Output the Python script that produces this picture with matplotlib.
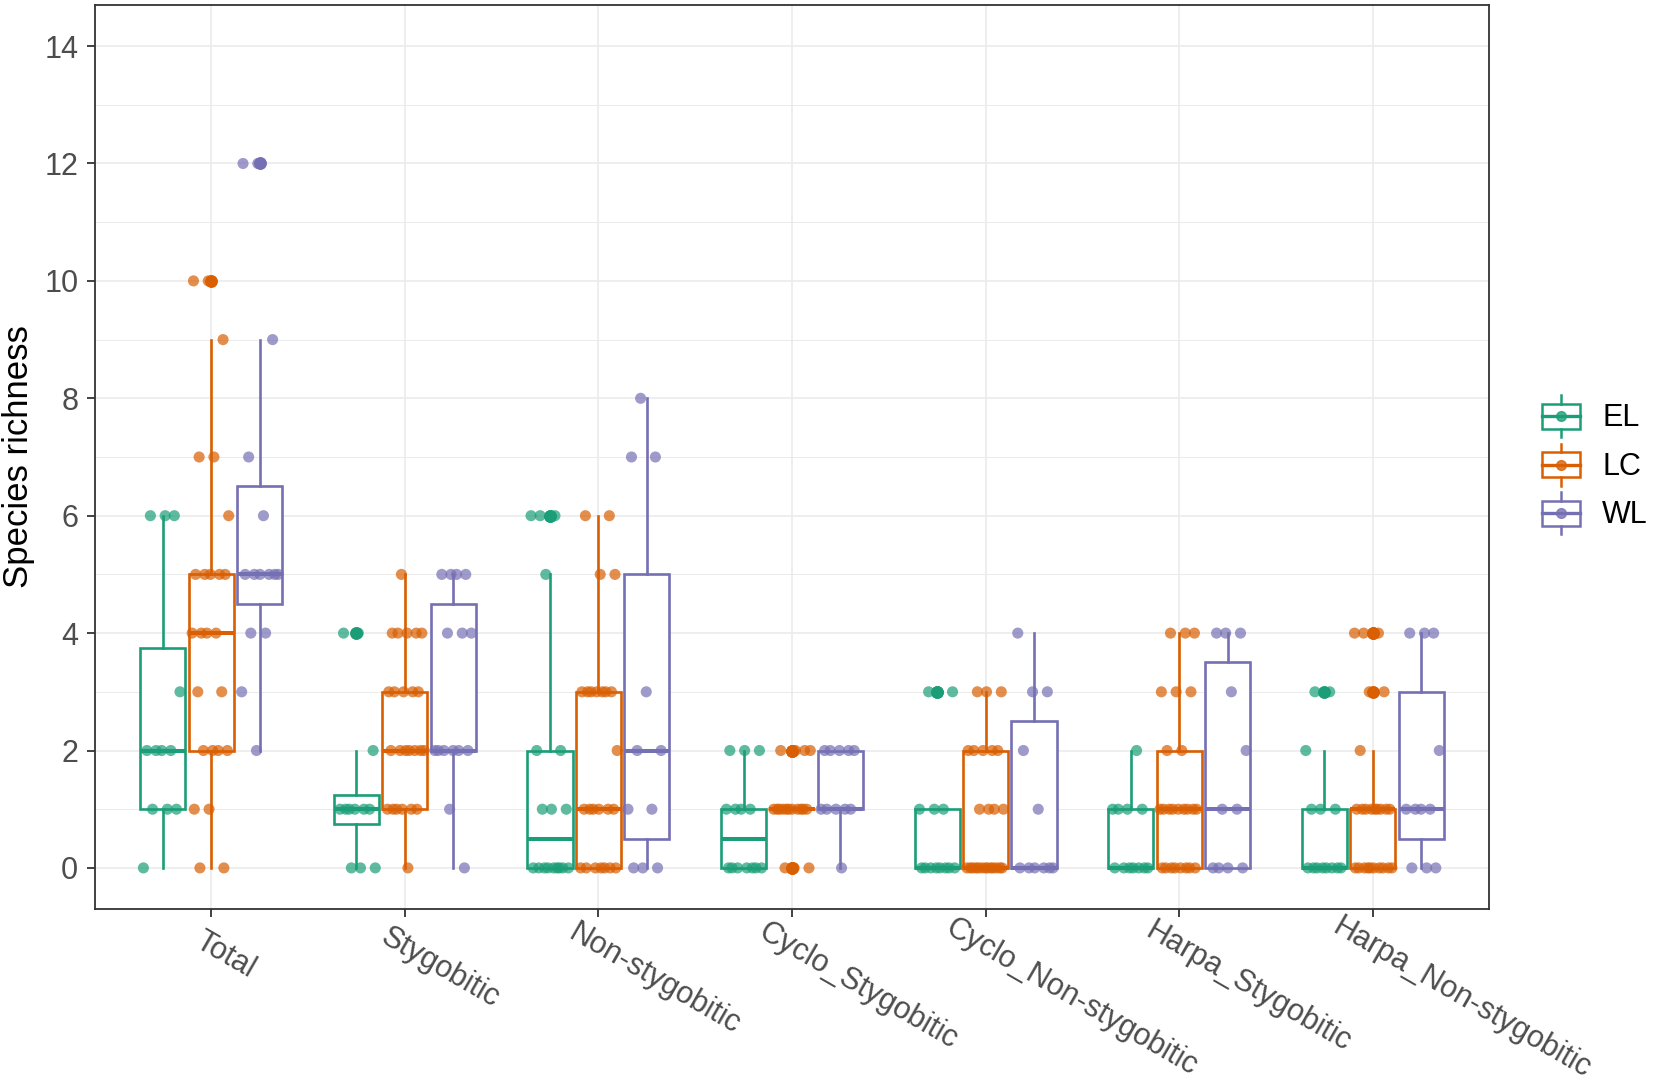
import numpy as np
import matplotlib.pyplot as plt
from matplotlib.patches import Rectangle
from matplotlib.transforms import ScaledTranslation

# categories on the x axis and the three habitats
categories = ["Total", "Stygobitic", "Non-stygobitic", "Cyclo_Stygobitic",
              "Cyclo_Non-stygobitic", "Harpa_Stygobitic", "Harpa_Non-stygobitic"]
habitats = ["EL", "LC", "WL"]
colors = ["#1B9E77", "#D95F02", "#7570B3"]

# species richness per site
el_values = [
    [0, 1, 1, 1, 2, 2, 2, 2, 3, 6, 6, 6],
    [0, 0, 0, 1, 1, 1, 1, 1, 1, 2, 4, 4],
    [0, 0, 0, 0, 0, 0, 0, 0, 0, 1, 1, 1, 2, 2, 5, 6, 6, 6],
    [0, 0, 0, 0, 0, 0, 0, 1, 1, 1, 1, 2, 2, 2],
    [0, 0, 0, 0, 0, 0, 0, 0, 1, 1, 1, 3, 3, 3],
    [0, 0, 0, 0, 0, 0, 0, 1, 1, 1, 1, 2],
    [0, 0, 0, 0, 0, 0, 0, 0, 1, 1, 1, 2, 3, 3],
]
lc_values = [
    [0, 0, 1, 1, 2, 2, 2, 2, 3, 3, 4, 4, 4, 4, 5, 5, 5, 5, 5, 6, 7, 7, 9, 10, 10],
    [0, 1, 1, 1, 1, 1, 1, 2, 2, 2, 2, 2, 2, 2, 3, 3, 3, 3, 3, 4, 4, 4, 4, 4, 5],
    [0, 0, 0, 0, 0, 0, 0, 1, 1, 1, 1, 1, 1, 2, 3, 3, 3, 3, 3, 3, 3, 5, 5, 6, 6],
    [0, 0, 0, 1, 1, 1, 1, 1, 1, 1, 1, 1, 1, 1, 2, 2, 2, 2],
    [0, 0, 0, 0, 0, 0, 0, 0, 0, 0, 0, 0, 0, 1, 1, 1, 1, 2, 2, 2, 2, 2, 3, 3, 3],
    [0, 0, 0, 0, 0, 0, 0, 0, 1, 1, 1, 1, 1, 1, 1, 1, 1, 2, 2, 3, 3, 3, 4, 4, 4],
    [0, 0, 0, 0, 0, 0, 0, 0, 0, 0, 1, 1, 1, 1, 1, 1, 1, 1, 1, 2, 3, 3, 4, 4, 4],
]
wl_values = [
    [2, 3, 4, 4, 5, 5, 5, 5, 5, 5, 6, 7, 9, 12, 12],
    [0, 1, 2, 2, 2, 2, 2, 2, 4, 4, 4, 5, 5, 5, 5],
    [0, 0, 0, 1, 1, 2, 2, 3, 7, 7, 8],
    [0, 1, 1, 1, 1, 1, 2, 2, 2, 2, 2],
    [0, 0, 0, 0, 0, 0, 1, 2, 3, 3, 4],
    [0, 0, 0, 0, 1, 1, 2, 3, 4, 4, 4],
    [0, 0, 0, 1, 1, 1, 1, 2, 4, 4, 4],
]
series = [el_values, lc_values, wl_values]

plt.rcParams['font.family'] = ['Liberation Sans', 'DejaVu Sans']

W, H = 1654, 1087
fig = plt.figure(figsize=(W / 100, H / 100), dpi=100)
ax = fig.add_axes([95 / W, 1 - 909 / H, (1489 - 95) / W, (909 - 5) / H])

x = np.arange(1, len(categories) + 1)
dodge = 0.25
box_w = 0.233
jw = 0.1

# boxplots first (outliers drawn at the box centre)
for h, (vals, col) in enumerate(zip(series, colors)):
    pos = x + (h - 1) * dodge
    ax.boxplot(vals, positions=pos, widths=box_w, patch_artist=True,
               showcaps=False, whis=1.5, manage_ticks=False, zorder=2,
               boxprops=dict(facecolor='white', edgecolor=col, linewidth=1.9),
               medianprops=dict(color=col, linewidth=2.9, solid_capstyle='butt'),
               whiskerprops=dict(color=col, linewidth=1.9),
               flierprops=dict(marker='o', markerfacecolor=col, markeredgecolor=col,
                               markersize=8, linestyle='none'))

# jittered points on top
for h, (vals, col) in enumerate(zip(series, colors)):
    pos = x + (h - 1) * dodge
    for i, v in enumerate(vals):
        k = np.arange(len(v))
        off = ((k * 0.618034 + i * 0.37 + h * 0.21) % 1.0 - 0.5) * 2 * jw
        ax.scatter(pos[i] + off, v, s=64, color=col, alpha=0.7,
                   edgecolors='none', zorder=3)

ax.set_xlim(0.4, 7.6)
ax.set_ylim(-0.7, 14.7)
ax.set_xticks(x)
ax.set_xticklabels([])
ax.set_yticks(np.arange(0, 15, 2))
ax.set_yticks(np.arange(1, 15, 2), minor=True)

ax.set_axisbelow(True)
ax.grid(which='major', color='#EBEBEB', linewidth=1.2)
ax.grid(which='minor', axis='y', color='#EBEBEB', linewidth=0.7)
ax.tick_params(which='major', length=6, width=1.3, color='#333333',
               labelcolor='#4D4D4D', labelsize=22, pad=6)
ax.tick_params(which='minor', length=0)
for s in ax.spines.values():
    s.set_color('#333333')
    s.set_linewidth(1.3)

# rotated category labels, nudged back along the text like ggplot does
fig.canvas.draw()
renderer = fig.canvas.get_renderer()
ang = np.radians(30)
lab_size = 22
for xi, lab in zip(x, categories):
    t = ax.text(xi, 0, lab, transform=ax.get_xaxis_transform(), fontsize=lab_size)
    w = t.get_window_extent(renderer).width
    t.remove()
    dx = -0.12 * w * np.cos(ang)
    dy = -21 + 0.12 * w * np.sin(ang)
    tr = ax.get_xaxis_transform() + ScaledTranslation(dx / 100, dy / 100, fig.dpi_scale_trans)
    ax.text(xi, 0, lab, transform=tr, rotation=-30, rotation_mode='anchor',
            ha='left', va='top', fontsize=lab_size, color='#4D4D4D')

fig.text(19 / W, 1 - 457 / H, "Species richness", rotation=90,
         ha='center', va='center', fontsize=25, color='black')

# legend drawn in pixel coordinates
lg = fig.add_axes([1520 / W, 1 - 560 / H, 134 / W, 180 / H])
lg.set_xlim(1520, 1654)
lg.set_ylim(560, 380)
lg.axis('off')
for h, (name, col) in enumerate(zip(habitats, colors)):
    cy = 416 + h * 48.7
    lg.add_patch(Rectangle((1542, cy - 12.5), 38, 25, facecolor='white',
                           edgecolor=col, linewidth=1.8))
    lg.plot([1561, 1561], [cy - 21, cy - 12.5], color=col, linewidth=1.8)
    lg.plot([1561, 1561], [cy + 12.5, cy + 21], color=col, linewidth=1.8)
    lg.plot([1542, 1580], [cy, cy], color=col, linewidth=2.4)
    lg.plot([1561], [cy], marker='o', markersize=7, color=col, alpha=0.8)
    lg.text(1602, cy + 2, name, ha='left', va='center', fontsize=22, color='black')

fig.savefig("out.png", dpi=100)
